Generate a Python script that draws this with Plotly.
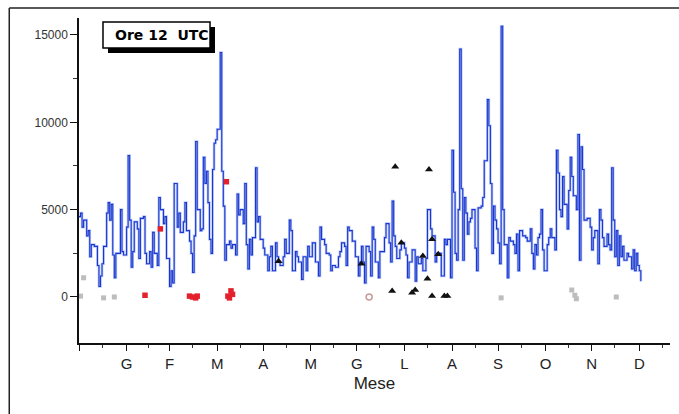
import plotly.graph_objects as go

# Serie giornaliera (ore 12 UTC): giorno dell'anno e valore
giorno = [0, 1, 2, 3, 5, 6, 7, 8, 10, 12, 13, 14, 15, 16, 18, 19, 20, 21, 22, 23,
          24, 25, 27, 28, 29, 31, 32, 33, 34, 35, 36, 38, 39, 40, 42, 43, 44, 46, 47, 48,
          49, 51, 52, 53, 55, 56, 57, 59, 60, 61, 62, 64, 65, 66, 68, 69, 70, 72, 73, 74,
          75, 76, 77, 79, 80, 81, 82, 83, 84, 85, 86, 87, 88, 89, 90, 92, 93, 94, 95, 96,
          98, 99, 100, 102, 103, 104, 105, 107, 108, 109, 110, 111, 112, 113, 115, 116, 117, 118, 120, 121,
          123, 124, 125, 126, 128, 129, 130, 131, 133, 134, 135, 137, 138, 139, 141, 142, 143, 145, 146, 148,
          149, 150, 152, 154, 156, 157, 158, 160, 161, 163, 164, 165, 167, 169, 170, 171, 173, 174, 175, 176,
          178, 180, 182, 183, 184, 185, 186, 187, 189, 190, 191, 192, 193, 195, 196, 197, 199, 200, 202, 203,
          204, 205, 206, 207, 209, 210, 212, 213, 214, 215, 217, 219, 220, 221, 223, 224, 226, 227, 229, 230,
          232, 233, 235, 236, 238, 239, 240, 242, 243, 244, 245, 246, 247, 248, 249, 250, 251, 252, 253, 254,
          255, 256, 258, 259, 260, 262, 263, 264, 266, 267, 268, 269, 270, 271, 272, 273, 274, 275, 276, 277,
          279, 280, 281, 283, 284, 285, 286, 287, 289, 291, 292, 294, 295, 296, 297, 298, 299, 300, 301, 302,
          303, 305, 306, 307, 308, 310, 311, 312, 313, 314, 315, 316, 318, 319, 320, 321, 322, 324, 325, 326,
          327, 328, 329, 331, 333, 334, 335, 336, 337, 338, 339, 340, 341, 342, 344, 345, 346, 347, 348, 349,
          350, 351, 352, 353, 354, 355, 357, 358, 360, 361, 362, 363, 364, 365, 366]
valore = [4600, 4800, 4000, 4400, 3500, 3800, 2300, 3000, 2900, 1800, 600, 1200, 1900, 2900, 4800, 5400, 4400, 5300, 2400, 1100,
          2500, 2500, 5000, 2600, 2400, 4000, 8100, 4400, 1700, 2600, 4300, 3900, 2200, 4500, 4600, 2500, 1900, 2600, 1700, 3700,
          2500, 1800, 5700, 5000, 4200, 4600, 2200, 600, 1500, 800, 6500, 4000, 4800, 3700, 4300, 5400, 3800, 3200, 2500, 1400,
          3500, 8900, 5000, 3800, 3900, 8000, 6500, 7200, 5400, 3300, 2500, 7300, 8800, 9000, 9600, 14000, 7200, 5200, 2100, 3000,
          3200, 2800, 3000, 2400, 5900, 4700, 5000, 4200, 6500, 3000, 1600, 3300, 2400, 3400, 7400, 4300, 4600, 3300, 2800, 2400,
          1500, 2300, 2900, 1500, 3100, 2300, 2000, 1800, 2300, 3300, 2500, 4400, 3800, 1500, 2600, 2300, 2000, 1000, 2300, 1500,
          2900, 2300, 3100, 2000, 1200, 4000, 3300, 3000, 2500, 2400, 1500, 1800, 1700, 2300, 2600, 3100, 2900, 1800, 4000, 3800,
          3200, 2300, 1200, 2000, 2900, 2000, 800, 2900, 2600, 1200, 4000, 3300, 2000, 1100, 2600, 2600, 3400, 4200, 3100, 2000,
          5500, 3500, 2900, 2200, 2700, 3100, 2800, 2400, 1100, 2000, 2700, 900, 2300, 1900, 2200, 1500, 2200, 5000, 3900, 3500,
          2000, 2500, 2500, 1200, 3300, 3000, 3300, 1100, 8400, 6000, 2500, 2100, 5000, 14200, 6200, 2100, 5700, 4800, 3600, 4300,
          4500, 5000, 2800, 1500, 5100, 5200, 5700, 7800, 11300, 9800, 6500, 2500, 5200, 4400, 3900, 3100, 1900, 15500, 5000, 3000,
          1100, 3400, 3200, 3000, 2500, 3600, 1500, 3800, 3500, 3400, 3200, 3900, 2500, 1600, 3000, 2400, 3400, 3600, 5000, 2700,
          1500, 3000, 3400, 3900, 3400, 2700, 8400, 7100, 5000, 4600, 6900, 5300, 3900, 6100, 8000, 6900, 5800, 5000, 9300, 2100,
          8600, 7300, 4400, 4500, 4000, 2700, 3400, 3800, 3800, 1900, 5000, 4400, 3400, 2900, 3600, 3000, 2700, 7400, 4400, 2300,
          3800, 1800, 3500, 2300, 2900, 2100, 2500, 2300, 1600, 2700, 1500, 2500, 1800, 1500, 900]

# Osservazioni puntuali
rossi_giorno = [43, 53, 72, 74, 76, 77, 96, 97, 98, 99, 100]
rossi_valore = [100, 3900, 50, 0, -50, 50, 6600, 50, -50, 350, 150]

grigi_giorno = [1, 3, 16, 23, 275, 321, 323, 324, 350]
grigi_valore = [50, 1100, -50, 0, -50, 400, 100, -100, 0]

cerchio_giorno = [189]
cerchio_valore = [0]

triangoli_giorno = [130, 184, 206, 228, 210, 224, 230, 234, 227, 204, 217, 219, 230, 238, 240]
triangoli_valore = [2050, 1900, 7450, 7300, 3100, 2350, 3300, 2450, 1050, 350, 250, 400, 50, 50, 50]

# Asse dei mesi
mesi = ["G", "F", "M", "A", "M", "G", "L", "A", "S", "O", "N", "D"]
fine_mese = [31, 59, 90, 120, 151, 181, 212, 243, 273, 304, 334, 365]
meta_mese = [15, 45, 74, 105, 135, 166, 196, 227, 258, 288, 319, 349, 380]

font_base = "Liberation Sans, Arial, sans-serif"

fig = go.Figure()

# alone azzurro sotto la linea principale
fig.add_trace(go.Scatter(x=giorno, y=valore, mode="lines", line_shape="hv",
                         line=dict(color="rgba(120,150,245,0.5)", width=2.6),
                         hoverinfo="skip", showlegend=False))
fig.add_trace(go.Scatter(x=giorno, y=valore, mode="lines", line_shape="hv",
                         line=dict(color="#1a36cc", width=1.1), showlegend=False))

fig.add_trace(go.Scatter(x=grigi_giorno, y=grigi_valore, mode="markers",
                         marker=dict(symbol="square", size=5, color="#bdbdbd"),
                         showlegend=False))
fig.add_trace(go.Scatter(x=cerchio_giorno, y=cerchio_valore, mode="markers",
                         marker=dict(symbol="circle-open", size=6, color="#c99a9a",
                                     line=dict(width=1.5)),
                         showlegend=False))
fig.add_trace(go.Scatter(x=rossi_giorno, y=rossi_valore, mode="markers",
                         marker=dict(symbol="square", size=5.5, color="#e3202c"),
                         showlegend=False))
fig.add_trace(go.Scatter(x=triangoli_giorno, y=triangoli_valore, mode="markers",
                         marker=dict(symbol="triangle-up", size=7, color="#111111"),
                         showlegend=False))

fig.update_layout(
    width=679, height=414,
    margin=dict(l=79, r=9, t=18, b=71),
    paper_bgcolor="white", plot_bgcolor="white",
    font=dict(family=font_base, color="#222222"),
    xaxis=dict(
        range=[0, 385],
        tickmode="array",
        tickvals=[0] + fine_mese,
        ticktext=[""] + mesi,
        ticks="outside", ticklen=6, tickwidth=1.2, tickcolor="#111",
        tickfont=dict(size=15, color="#222"),
        showline=True, linecolor="#111", linewidth=1.5,
        showgrid=False, zeroline=False,
        minor=dict(tickmode="array", tickvals=meta_mese, ticks="outside",
                   ticklen=3, tickwidth=1, tickcolor="#333", showgrid=False),
        title=dict(text="Mese", font=dict(size=17, color="#222"), standoff=6),
    ),
    yaxis=dict(
        range=[-2634, 15973],
        tickmode="array",
        tickvals=[0, 5000, 10000, 15000],
        ticktext=["0", "5000", "10000", "15000"],
        ticks="outside", ticklen=7, tickwidth=1.2, tickcolor="#111",
        tickfont=dict(size=12, color="#333"),
        showline=True, linecolor="#111", linewidth=1.5,
        showgrid=False, zeroline=False,
        minor=dict(tickmode="array", tickvals=[2500, 7500, 12500], ticks="outside",
                   ticklen=4, tickwidth=1, tickcolor="#333", showgrid=False),
    ),
    shapes=[
        # cornice esterna (lati superiore e sinistro)
        dict(type="line", xref="paper", yref="paper", x0=-0.118, x1=1.02,
             y0=1.031, y1=1.031, line=dict(color="#222", width=1.5)),
        dict(type="line", xref="paper", yref="paper", x0=-0.118, x1=-0.118,
             y0=1.031, y1=-0.25, line=dict(color="#222", width=1.5)),
        # riquadro del titolo con ombra
        dict(type="rect", xref="paper", yref="paper", x0=0.0491, x1=0.2301,
             y0=0.8923, y1=0.9723, fillcolor="#000", line=dict(width=0)),
        dict(type="rect", xref="paper", yref="paper", x0=0.0406, x1=0.2217,
             y0=0.9077, y1=0.9877, fillcolor="white", line=dict(color="#000", width=1.5)),
    ],
    annotations=[
        dict(text="<b>Ore 12  UTC</b>", xref="paper", yref="paper",
             x=0.0575, y=0.9477, showarrow=False, xanchor="left", yanchor="middle",
             font=dict(size=14, color="#000", family="DejaVu Sans, sans-serif")),
    ],
)

fig.write_html("out.html")
